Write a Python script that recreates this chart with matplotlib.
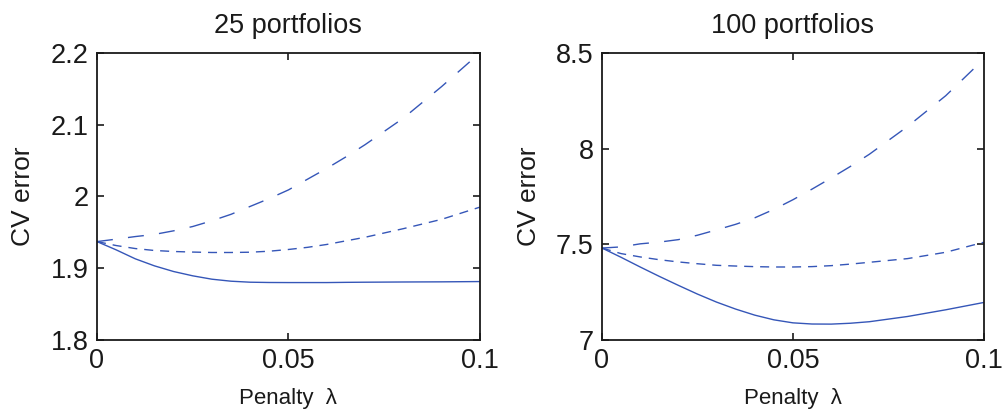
import matplotlib
matplotlib.use("Agg")
import matplotlib.pyplot as plt

plt.rcParams['font.family'] = ['Liberation Sans', 'DejaVu Sans']

lam = [0.0, 0.005, 0.01, 0.015, 0.02, 0.025, 0.03, 0.035, 0.04, 0.045,
       0.05, 0.055, 0.06, 0.065, 0.07, 0.08, 0.09, 0.1]

# 25 portfolios
p25_long = [1.937, 1.9404, 1.944, 1.947, 1.952, 1.958, 1.966, 1.975, 1.986, 1.997,
            2.009, 2.024, 2.039, 2.055, 2.072, 2.109, 2.153, 2.200]
p25_short = [1.937, 1.9315, 1.9273, 1.9246, 1.9232, 1.9224, 1.9218, 1.9218, 1.9222, 1.9236,
             1.926, 1.929, 1.933, 1.938, 1.943, 1.955, 1.968, 1.985]
p25_solid = [1.937, 1.9255, 1.913, 1.9032, 1.8953, 1.8893, 1.8846, 1.8818, 1.8804, 1.8800,
             1.8799, 1.8799, 1.8799, 1.8802, 1.8804, 1.8807, 1.8809, 1.8813]

# 100 portfolios
p100_long = [7.480, 7.486, 7.502, 7.511, 7.524, 7.547, 7.575, 7.604, 7.638, 7.682,
             7.7325, 7.788, 7.846, 7.906, 7.970, 8.115, 8.276, 8.468]
p100_short = [7.480, 7.451, 7.4336, 7.419, 7.4074, 7.398, 7.3898, 7.386, 7.3828, 7.381,
              7.381, 7.383, 7.388, 7.396, 7.4055, 7.4248, 7.4579, 7.5104]
p100_solid = [7.480, 7.4316, 7.381, 7.332, 7.285, 7.2394, 7.1975, 7.161, 7.1294, 7.1049,
              7.0891, 7.0830, 7.0825, 7.0870, 7.0950, 7.1223, 7.1573, 7.1957]

titles = ["25 portfolios", "100 portfolios"]
xticks = [0, 0.05, 0.1]
xticklabels = ["0", "0.05", "0.1"]
yticks_25 = [1.8, 1.9, 2.0, 2.1, 2.2]
yticklabels_25 = ["1.8", "1.9", "2", "2.1", "2.2"]
yticks_100 = [7.0, 7.5, 8.0, 8.5]
yticklabels_100 = ["7", "7.5", "8", "8.5"]

color = '#3556b8'
textc = '#1a1a1a'

fig = plt.figure(figsize=(10.05, 4.13), dpi=100)
ax1 = fig.add_axes([0.0965, 0.177, 0.381, 0.695])
ax2 = fig.add_axes([0.599, 0.177, 0.380, 0.695])

panels = [
    (ax1, p25_long, p25_short, p25_solid, (1.8, 2.2), yticks_25, yticklabels_25),
    (ax2, p100_long, p100_short, p100_solid, (7.0, 8.5), yticks_100, yticklabels_100),
]

for (ax, lng, sht, sld, ylim, yt, ytl), title in zip(panels, titles):
    ax.plot(lam, lng, color=color, lw=1.0, dashes=(11.5, 11))
    ax.plot(lam, sht, color=color, lw=1.0, dashes=(6.5, 5))
    ax.plot(lam, sld, color=color, lw=1.0)
    ax.set_xlim(0, 0.1)
    ax.set_ylim(*ylim)
    ax.set_xticks(xticks)
    ax.set_xticklabels(xticklabels)
    ax.set_yticks(yt)
    ax.set_yticklabels(ytl)
    ax.tick_params(direction='in', length=5, width=1.2, top=True, right=True,
                   labelsize=19.5, pad=6, colors=textc)
    for sp in ax.spines.values():
        sp.set_linewidth(1.3)
        sp.set_color(textc)
    ax.set_title(title, fontsize=19.5, pad=14, color=textc)
    ax.set_ylabel("CV error", fontsize=19, labelpad=11, color=textc)
    ax.set_xlabel("Penalty  \u03bb", fontsize=16, labelpad=10, color=textc)

fig.savefig("out.png", dpi=100)
